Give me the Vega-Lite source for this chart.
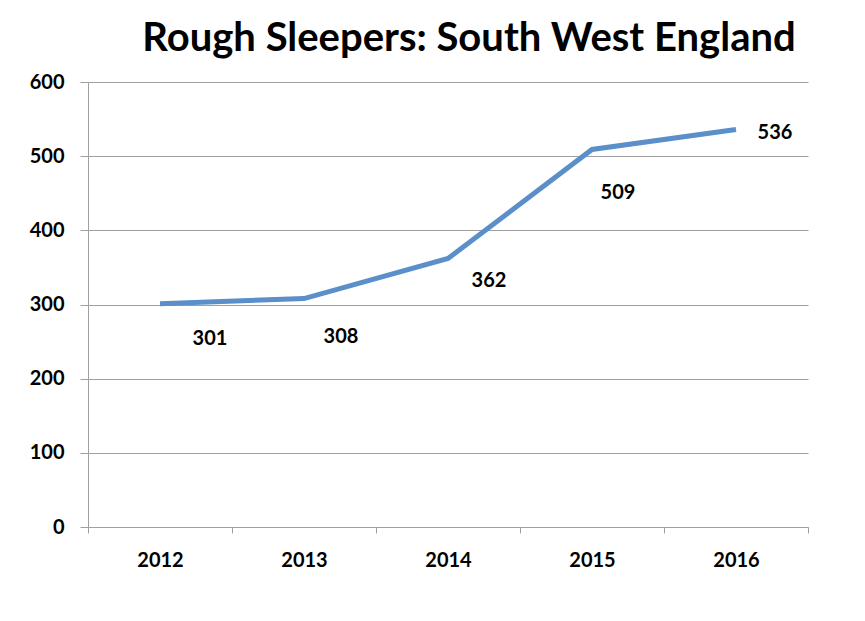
{
  "$schema": "https://vega.github.io/schema/vega-lite/v6.json",
  "width": 720,
  "height": 445,
  "autosize": {"type": "none"},
  "padding": {"left": 88, "top": 82, "right": 57, "bottom": 94},
  "background": "white",
  "config": {"view": {"stroke": null}, "font": "Lato"},
  "title": {
    "text": "Rough Sleepers: South West England",
    "font": "Lato",
    "fontSize": 40,
    "fontWeight": "bold",
    "color": "#000000",
    "anchor": "middle",
    "dx": 21,
    "offset": 13
  },
  "data": {
    "values": [
      {"year": "2012", "count": 301},
      {"year": "2013", "count": 308},
      {"year": "2014", "count": 362},
      {"year": "2015", "count": 509},
      {"year": "2016", "count": 536}
    ]
  },
  "encoding": {
    "x": {
      "field": "year",
      "type": "ordinal",
      "scale": {"type": "band", "paddingInner": 0, "paddingOuter": 0},
      "axis": {
        "title": null,
        "labelAngle": 0,
        "labelFont": "Lato",
        "labelFontSize": 20,
        "labelFontWeight": "bold",
        "labelColor": "#000000",
        "labelPadding": 17,
        "tickBand": "extent",
        "tickSize": 6,
        "tickColor": "#a0a0a0",
        "domainColor": "#a0a0a0",
        "grid": false
      }
    },
    "y": {
      "field": "count",
      "type": "quantitative",
      "scale": {"domain": [0, 600], "nice": false},
      "axis": {
        "title": null,
        "values": [0, 100, 200, 300, 400, 500, 600],
        "labelFont": "Lato",
        "labelFontSize": 20,
        "labelFontWeight": "bold",
        "labelColor": "#000000",
        "labelPadding": 16,
        "tickSize": 8,
        "tickColor": "#a0a0a0",
        "domainColor": "#a0a0a0",
        "grid": true,
        "gridColor": "#a0a0a0",
        "gridWidth": 1
      }
    }
  },
  "layer": [
    {
      "mark": {"type": "line", "color": "#5a8fca", "strokeWidth": 5}
    },
    {
      "transform": [{"filter": "datum.year == '2012'"}],
      "mark": {"type": "text", "fontSize": 20, "fontWeight": "bold", "font": "Lato", "color": "#000000", "dx": 50, "dy": 35},
      "encoding": {"text": {"field": "count", "type": "quantitative"}}
    },
    {
      "transform": [{"filter": "datum.year == '2013'"}],
      "mark": {"type": "text", "fontSize": 20, "fontWeight": "bold", "font": "Lato", "color": "#000000", "dx": 37, "dy": 38},
      "encoding": {"text": {"field": "count", "type": "quantitative"}}
    },
    {
      "transform": [{"filter": "datum.year == '2014'"}],
      "mark": {"type": "text", "fontSize": 20, "fontWeight": "bold", "font": "Lato", "color": "#000000", "dx": 41, "dy": 22},
      "encoding": {"text": {"field": "count", "type": "quantitative"}}
    },
    {
      "transform": [{"filter": "datum.year == '2015'"}],
      "mark": {"type": "text", "fontSize": 20, "fontWeight": "bold", "font": "Lato", "color": "#000000", "dx": 26, "dy": 44},
      "encoding": {"text": {"field": "count", "type": "quantitative"}}
    },
    {
      "transform": [{"filter": "datum.year == '2016'"}],
      "mark": {"type": "text", "fontSize": 20, "fontWeight": "bold", "font": "Lato", "color": "#000000", "dx": 39, "dy": 4},
      "encoding": {"text": {"field": "count", "type": "quantitative"}}
    }
  ]
}
